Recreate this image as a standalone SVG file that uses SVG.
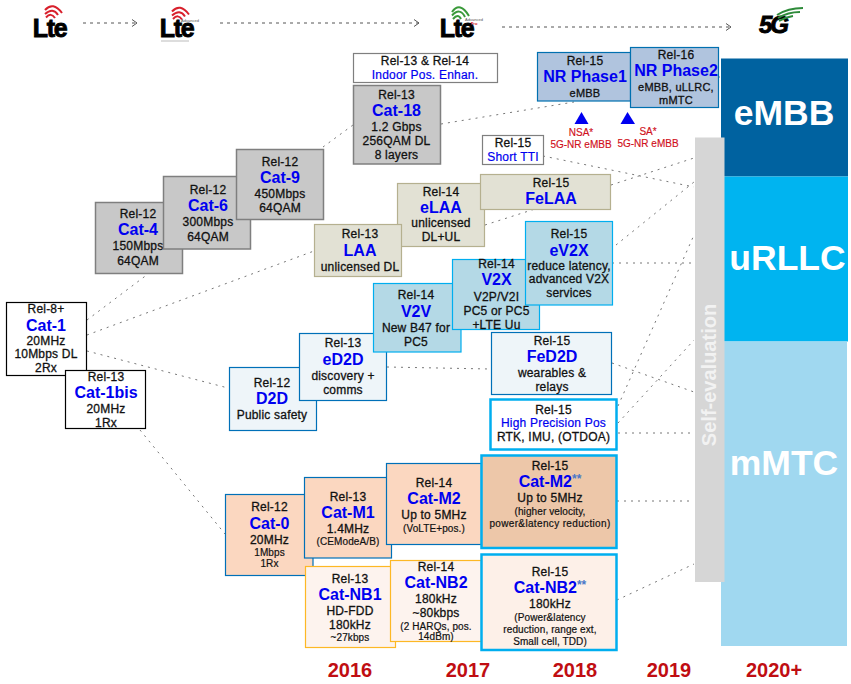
<svg xmlns="http://www.w3.org/2000/svg" width="851" height="684" viewBox="0 0 851 684">
<defs>
<marker id="ah" markerWidth="8" markerHeight="8" refX="6" refY="4" orient="auto" markerUnits="userSpaceOnUse"><path d="M1,0.5 L6,4 L1,7.5" fill="none" stroke="#555" stroke-width="1"/></marker>
</defs>
<style>
text{font-family:"Liberation Sans",Arial,sans-serif;text-anchor:middle;fill:#111;font-size:12px;stroke:#111;stroke-width:.3px;letter-spacing:.2px}
.t{font-size:16px;font-weight:700;fill:#0000f0;stroke:none;letter-spacing:0}
.b{font-size:12px;fill:#0000f0;stroke:#0000f0;stroke-width:.2px}
.s{font-size:10px;stroke-width:.2px;letter-spacing:.1px}
.y{font-size:20px;font-weight:700;fill:#c00d12;stroke:none;letter-spacing:0}
.r{font-size:10px;fill:#d01020;stroke:#d01020;stroke-width:.15px;letter-spacing:0}
.big{font-size:35.5px;font-weight:700;fill:#fff;stroke:none;letter-spacing:0}
.sup{font-size:12px;font-weight:700;fill:#4a78c8;stroke:none}
.logo{font-size:25px;font-weight:700;fill:#000;stroke:#000;stroke-width:.9px;letter-spacing:-1.4px}
.tiny{font-size:4px;stroke:none;fill:#555;letter-spacing:0}
.g{fill:#c8c8c8;stroke:#7f7f7f;stroke-width:1.5}
.w{fill:#fff;stroke:#000;stroke-width:1.2}
.wg{fill:#fff;stroke:#7f7f7f;stroke-width:1.2}
.k{fill:#e2e1d4;stroke:#b5b08f;stroke-width:1.2}
.n{fill:#b0c4de;stroke:#0070b0;stroke-width:1.2}
.v{fill:#b4d9e6;stroke:#00aeef;stroke-width:1.2}
.d{fill:#eef5f9;stroke:#0070b8;stroke-width:1.2}
.p{fill:#fbd7c0;stroke:#0070b8;stroke-width:1.2}
.nb{fill:#fdf3ee;stroke:#fdb825;stroke-width:1.2}
.c{fill:#fff;stroke:#00aeef;stroke-width:2.5}
.c1{fill:#edc7a9;stroke:#00aeef;stroke-width:2.5}
.c2{fill:#fdf0e8;stroke:#00aeef;stroke-width:2.5}
.l{fill:none;stroke:#777;stroke-width:1;stroke-dasharray:2 5}
.a{fill:none;stroke:#555;stroke-width:1;stroke-dasharray:3 4;marker-end:url(#ah)}
.arc{fill:none;stroke-width:2}
</style>

<g id="logos">
<text class="logo" x="49.5" y="37">Lte</text>
<path class="arc" stroke="#d8202c" d="M45,10 Q53,1 62,13 M45,14 Q53,7 58,15 M46,17.5 Q51,12 55,18"/>
<text class="logo" x="176.5" y="37">Lte</text>
<path class="arc" stroke="#d8202c" d="M172,11.5 Q180,2.5 189,14.5 M172,15.5 Q180,8.5 185,16.5 M173,19 Q178,13.5 182,19.5"/>
<text class="tiny" x="190" y="22">Advanced</text>
<path d="M161,41H189" stroke="#ddd" stroke-width="2"/>
<text class="logo" x="456.5" y="37">Lte</text>
<path class="arc" stroke="#3a9a3a" d="M452,12 Q460,1 469,16 M452,15.5 Q460,7 465,17 M453,19 Q458,13 461,19"/>
<text class="tiny" x="474" y="20.5">Advanced</text>
<text class="tiny" x="474" y="24.5" style="fill:#d01020;font-weight:700">Pro</text>
<text class="logo" x="773" y="33" style="font-size:24px;font-style:italic;letter-spacing:-2px">5G</text>
<path class="arc" stroke="#2e8b3a" d="M777,15 Q788,8 803,8 M778,18 Q788,12 800,12 M779,21 Q786,17 793,16"/>
</g>

<g id="connectors">
<path class="a" d="M83,23H137"/>
<path class="a" d="M220,23H419"/>
<path class="a" d="M502,27H731"/>
<path class="l" d="M87,320L148,274"/>
<path class="l" d="M87,335L314,251"/>
<path class="l" d="M87,351L228,388"/>
<path class="l" d="M140,430L225,534"/>
<path class="l" d="M323,147L353,125"/>
<path class="l" d="M441,124L574,102"/>
<path class="l" d="M485,225L535,209"/>
<path class="l" d="M543,156L694,187"/>
<path class="l" d="M611,185L694,158"/>
<path class="l" d="M616,245L694,182"/>
<path class="l" d="M612,263H694"/>
<path class="l" d="M618,406L694,235"/>
<path class="l" d="M618,423L694,340"/>
<path class="l" d="M618,433H694"/>
<path class="l" d="M612,363L694,392"/>
<path class="l" d="M387,367L490,369"/>
<path class="l" d="M617,501H694"/>
<path class="l" d="M617,600L694,564"/>
<path class="l" d="M718,77H721"/>
</g>

<g id="col-embb"><rect x="721" y="58.5" width="127" height="118" fill="#0062a0"/><text class="big" x="784" y="125">eMBB</text></g>
<g id="col-urllc"><rect x="721" y="176.5" width="127" height="165" fill="#00b4f0"/><text class="big" x="787.5" y="270">uRLLC</text></g>
<g id="col-mmtc"><rect x="721" y="341.5" width="126" height="304.5" fill="#a0d8f0"/><text class="big" x="784" y="475">mMTC</text></g>
<g id="self-eval"><rect x="695" y="137.5" width="29.5" height="444.5" fill="#d6d6d6"/><text transform="translate(716,375) rotate(-90)" x="0" y="0" style="font-size:20px;font-weight:700;fill:#f2f2f2;stroke:none;letter-spacing:0">Self-evaluation</text></g>

<g id="cat4"><rect class="g" x="95.5" y="202.5" width="87" height="71"/><text x="138" y="217.5">Rel-12</text><text class="t" x="138" y="235">Cat-4</text><text x="138" y="250">150Mbps</text><text x="138" y="265">64QAM</text></g>
<g id="cat6"><rect class="g" x="163.5" y="176.5" width="87" height="72.5"/><text x="208" y="193.5">Rel-12</text><text class="t" x="208" y="210.5">Cat-6</text><text x="208" y="226">300Mbps</text><text x="208" y="241">64QAM</text></g>
<g id="cat9"><rect class="g" x="236.5" y="149.5" width="87" height="70"/><text x="280" y="165.5">Rel-12</text><text class="t" x="280" y="182.5">Cat-9</text><text x="280" y="198">450Mbps</text><text x="280" y="212">64QAM</text></g>
<g id="cat18"><rect class="g" x="353.5" y="85.5" width="87" height="78.5"/><text x="396.5" y="98.5">Rel-13</text><text class="t" x="396.5" y="115.5">Cat-18</text><text x="396.5" y="131">1.2 Gbps</text><text x="396.5" y="145">256QAM DL</text><text x="396.5" y="159">8 layers</text></g>
<g id="indoor"><rect class="wg" x="353.5" y="53.5" width="144" height="29"/><text x="425" y="65">Rel-13 &amp; Rel-14</text><text class="b" x="425" y="78.5">Indoor Pos. Enhan.</text></g>

<g id="elaa"><rect class="k" x="397.5" y="183.5" width="87" height="63"/><text x="441" y="196">Rel-14</text><text class="t" x="441" y="213">eLAA</text><text x="441" y="227">unlicensed</text><text x="441" y="241">DL+UL</text></g>
<g id="laa"><rect class="k" x="314.5" y="224.5" width="87" height="52"/><text x="360" y="238">Rel-13</text><text class="t" x="360" y="256">LAA</text><text x="360" y="270.5">unlicensed DL</text></g>
<g id="felaa"><rect class="k" x="480.5" y="174.5" width="130" height="35"/><text x="551" y="186.5">Rel-15</text><text class="t" x="551" y="204">FeLAA</text></g>

<g id="nr1"><rect class="n" x="537.5" y="52.5" width="93" height="48.5"/><text x="585" y="65">Rel-15</text><text class="t" x="585" y="82">NR Phase1</text><text x="585" y="97" style="font-size:11px">eMBB</text></g>
<g id="nr2"><rect class="n" x="630.5" y="47.5" width="88" height="60"/><text x="676" y="58.5">Rel-16</text><text class="t" x="676" y="76">NR Phase2</text><text x="676" y="91" style="font-size:11px">eMBB, uLLRC,</text><text x="676" y="104" style="font-size:11px">mMTC</text></g>
<g id="nsa"><path d="M574.5,124L581.5,112L588.5,124Z" fill="#0000f0"/><text class="r" x="581" y="136">NSA*</text><text class="r" x="581" y="148">5G-NR eMBB</text></g>
<g id="sa"><path d="M620.5,124L627.5,112L635,124Z" fill="#0000f0"/><text class="r" x="648" y="135">SA*</text><text class="r" x="648" y="147">5G-NR eMBB</text></g>
<g id="stti"><rect class="wg" x="482.5" y="135.5" width="61" height="29"/><text x="513" y="147">Rel-15</text><text class="b" x="513" y="160.5">Short TTI</text></g>

<g id="d2d"><rect class="d" x="229.5" y="367.5" width="87" height="63"/><text x="272" y="386.5">Rel-12</text><text class="t" x="272" y="404">D2D</text><text x="272" y="418.5">Public safety</text></g>
<g id="ed2d"><rect class="d" x="299.5" y="333.5" width="87" height="67"/><text x="343" y="347">Rel-13</text><text class="t" x="343" y="365">eD2D</text><text x="343" y="380">discovery +</text><text x="343" y="394">comms</text></g>
<g id="v2v"><rect class="v" x="373.5" y="283.5" width="87.5" height="68.5"/><text x="416" y="299">Rel-14</text><text class="t" x="416" y="316.5">V2V</text><text x="416" y="331.5">New B47 for</text><text x="416" y="345.5">PC5</text></g>
<g id="v2x"><rect class="v" x="452.5" y="259.5" width="87" height="70"/><text x="496.5" y="267.5">Rel-14</text><text class="t" x="496.5" y="285">V2X</text><text x="496.5" y="300.5">V2P/V2I</text><text x="496.5" y="315">PC5 or PC5</text><text x="496.5" y="328.5">+LTE Uu</text></g>
<g id="ev2x"><rect class="v" x="525.5" y="221.5" width="87" height="83.5"/><text x="569" y="237.5">Rel-15</text><text class="t" x="569" y="255.5">eV2X</text><text x="569" y="270">reduce latency,</text><text x="569" y="283">advanced V2X</text><text x="569" y="296.5">services</text></g>

<g id="cat1"><rect class="w" x="6.5" y="302.5" width="80" height="73"/><text x="46" y="312.5">Rel-8+</text><text class="t" x="46" y="330.5">Cat-1</text><text x="46" y="345">20MHz</text><text x="46" y="358">10Mbps DL</text><text x="46" y="372">2Rx</text></g>
<g id="cat1bis"><rect class="w" x="65.5" y="370.5" width="80" height="58"/><text x="106" y="381">Rel-13</text><text class="t" x="106" y="397.5">Cat-1bis</text><text x="106" y="412.5">20MHz</text><text x="106" y="426.5">1Rx</text></g>

<g id="fed2d"><rect class="d" x="491.5" y="332.5" width="120" height="62"/><text x="552" y="344.5">Rel-15</text><text class="t" x="552" y="361.5">FeD2D</text><text x="552" y="376.5">wearables &amp;</text><text x="552" y="390.5">relays</text></g>
<g id="hpp"><rect class="c" x="490.5" y="399.5" width="126" height="50"/><text x="553.5" y="413.5">Rel-15</text><text class="b" x="553.5" y="426.5">High Precision Pos</text><text x="553.5" y="441">RTK, IMU, (OTDOA)</text></g>

<g id="cat0"><rect class="p" x="225.5" y="494.5" width="87.5" height="81"/><text x="269.5" y="511">Rel-12</text><text class="t" x="269.5" y="529">Cat-0</text><text x="269.5" y="544">20MHz</text><text class="s" x="269.5" y="556">1Mbps</text><text class="s" x="269.5" y="567">1Rx</text></g>
<g id="catm1"><rect class="p" x="304.5" y="477.5" width="87" height="80.5"/><text x="348" y="500.5">Rel-13</text><text class="t" x="348" y="517.5">Cat-M1</text><text x="348" y="532.5">1.4MHz</text><text class="s" x="348" y="545">(CEModeA/B)</text></g>
<g id="catm2"><rect class="p" x="386.5" y="463.5" width="95" height="81"/><text x="434" y="486.5">Rel-14</text><text class="t" x="434" y="504">Cat-M2</text><text x="434" y="519">Up to 5MHz</text><text class="s" x="434" y="531.5">(VoLTE+pos.)</text></g>
<g id="catnb1"><rect class="nb" x="305.5" y="566.5" width="90" height="81"/><text x="350" y="582.5">Rel-13</text><text class="t" x="350" y="600">Cat-NB1</text><text x="350" y="615">HD-FDD</text><text x="350" y="628.5">180kHz</text><text class="s" x="350" y="641">~27kbps</text></g>
<g id="catnb2"><rect class="nb" x="390.5" y="560.5" width="91" height="81"/><text x="436" y="571">Rel-14</text><text class="t" x="436" y="588">Cat-NB2</text><text x="436" y="602.5">180kHz</text><text x="436" y="616.5">~80kbps</text><text class="s" x="436" y="629.5">(2 HARQs, pos.</text><text class="s" x="436" y="640">14dBm)</text></g>
<g id="catm2pp"><rect class="c1" x="481.5" y="455.5" width="135" height="92.5"/><text x="550" y="469.5">Rel-15</text><text class="t" x="550" y="486.5">Cat-M2<tspan class="sup" dy="-4">**</tspan></text><text x="550" y="501.5">Up to 5MHz</text><text class="s" x="550" y="515">(higher velocity,</text><text class="s" x="550" y="527" style="letter-spacing:.35px">power&amp;latency reduction)</text></g>
<g id="catnb2pp"><rect class="c2" x="481.5" y="554.5" width="135" height="95.5"/><text x="550" y="575.5">Rel-15</text><text class="t" x="550" y="592.5">Cat-NB2<tspan class="sup" dy="-4">**</tspan></text><text x="550" y="607.5">180kHz</text><text class="s" x="550" y="621">(Power&amp;latency</text><text class="s" x="550" y="633">reduction, range ext,</text><text class="s" x="550" y="645">Small cell, TDD)</text></g>

<g id="years"><text class="y" x="350" y="677">2016</text><text class="y" x="468" y="677">2017</text><text class="y" x="575" y="677">2018</text><text class="y" x="669" y="677">2019</text><text class="y" x="774" y="677">2020+</text></g>
</svg>
